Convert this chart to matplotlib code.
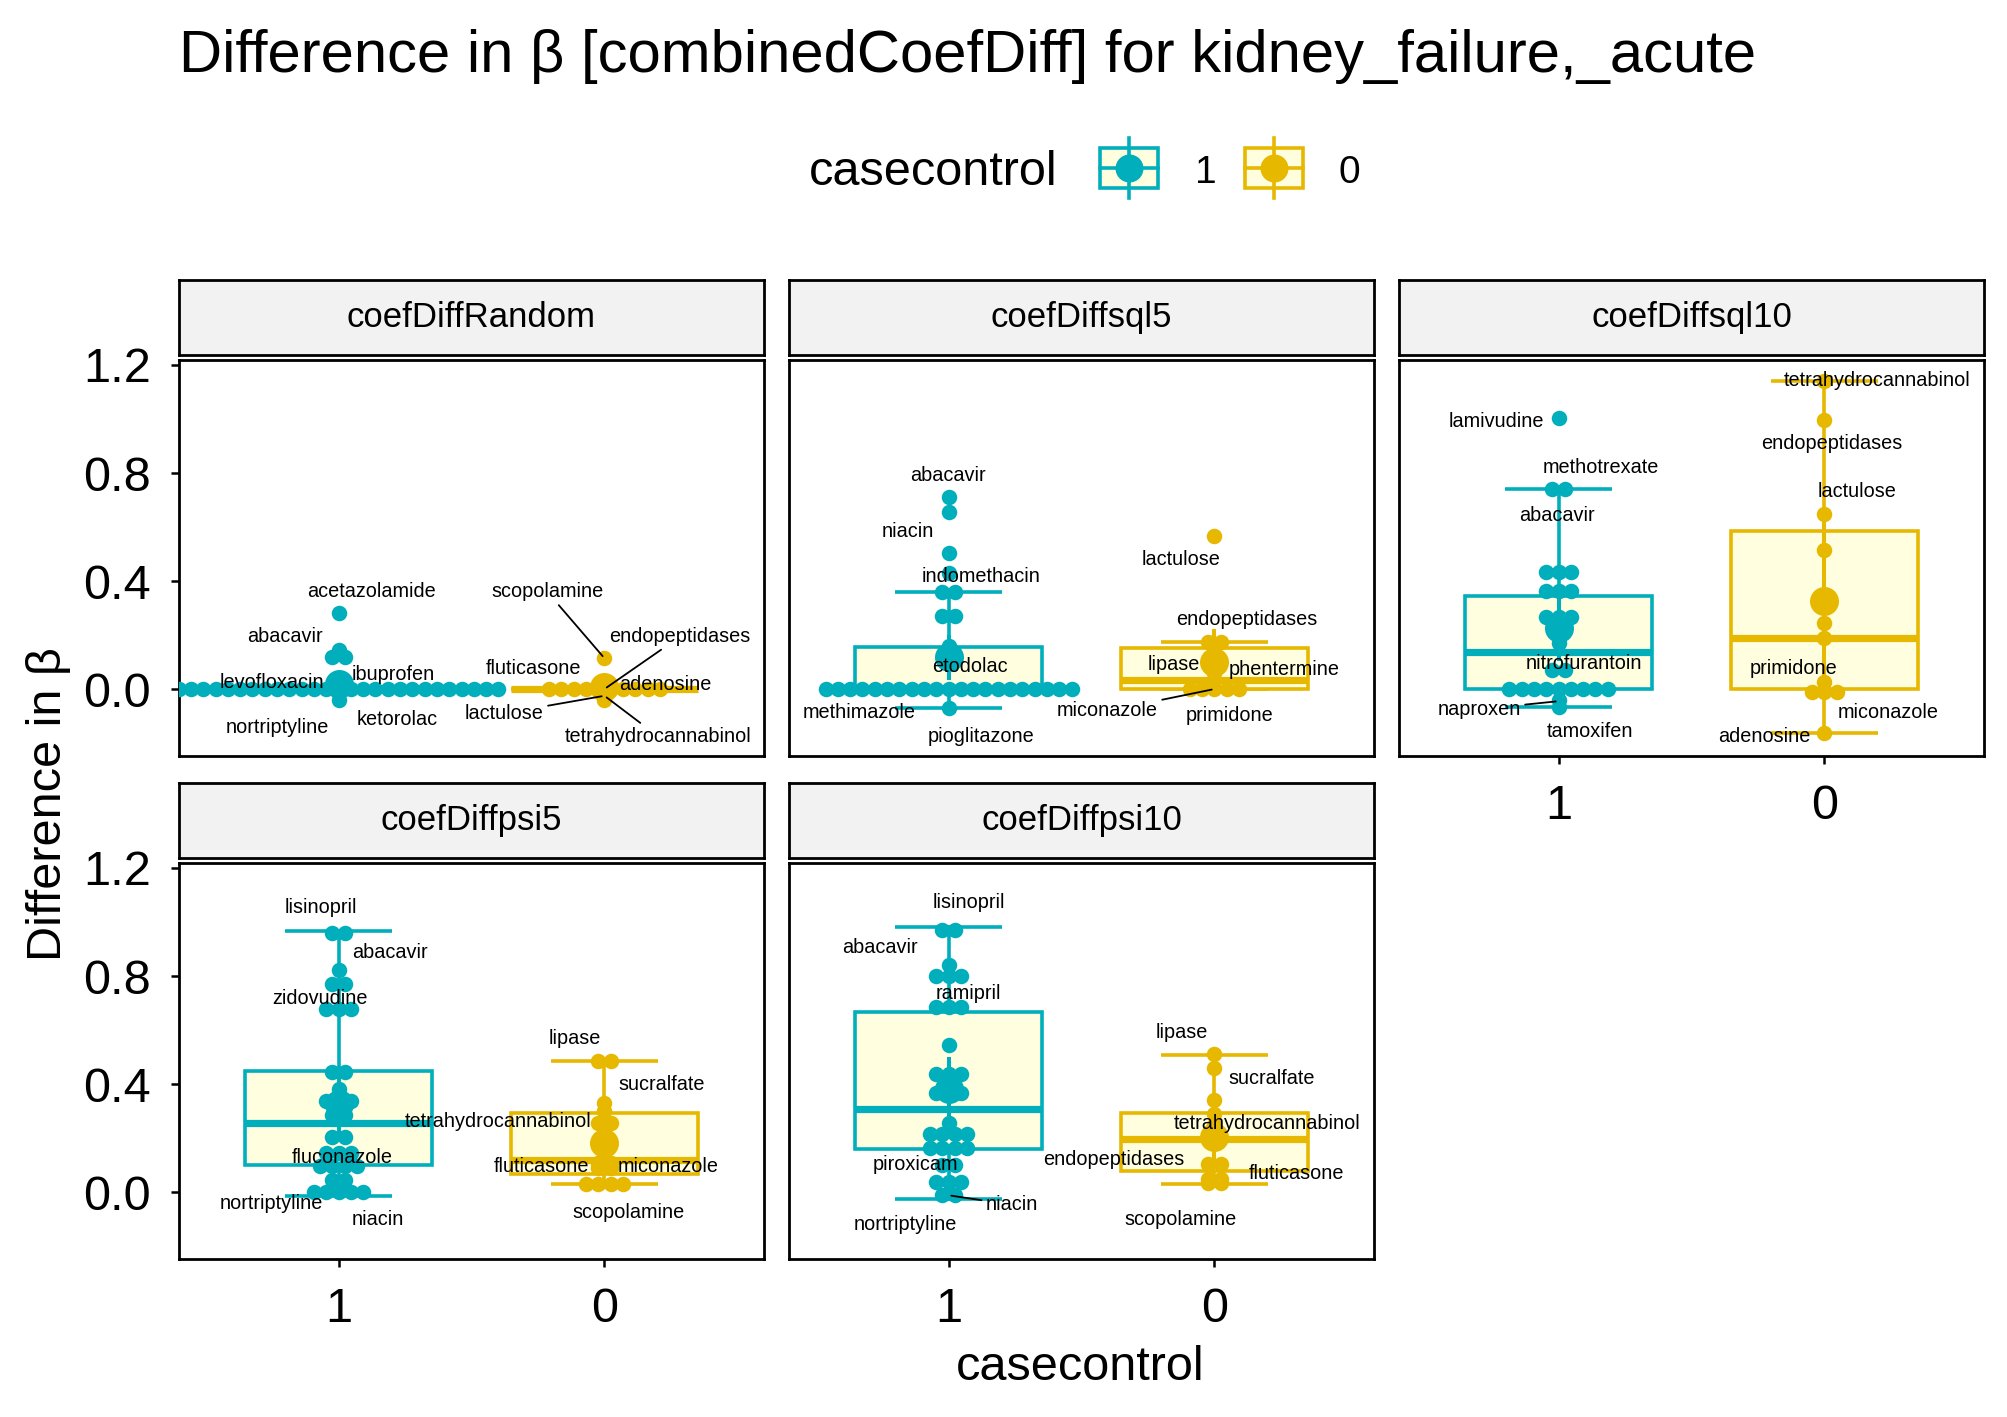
import numpy as np
import matplotlib
matplotlib.use("Agg")
from matplotlib import pyplot as plt
from matplotlib.patches import Rectangle

plt.rcParams["font.family"] = ["Liberation Sans", "DejaVu Sans"]

W, H = 2007, 1417
teal, gold = "#00AFBB", "#E7B800"
box_fill = "#FFFFE0"

title = "Difference in β [combinedCoefDiff] for kidney_failure,_acute"
facet_names = ["coefDiffRandom", "coefDiffsql5", "coefDiffsql10", "coefDiffpsi5", "coefDiffpsi10"]
group_labels = ["1", "0"]

# dot values (binned), case = "1", control = "0"
random_1 = [0.283, 0.145, 0.12, 0.12, 0.04, -0.04] + [0.0] * 27
random_0 = [0.114, -0.04] + [0.0] * 10
sql5_1 = [0.71, 0.656, 0.505, 0.43, 0.358, 0.358, 0.27, 0.27, 0.16, 0.12] + [0.0] * 21 + [-0.072]
sql5_0 = [0.567, 0.175, 0.175, 0.10, 0.06, 0.035] + [0.0] * 5
sql10_1 = ([1.002, 0.741, 0.741] + [0.435] * 3 + [0.362] * 3 + [0.268] * 3
           + [0.17, 0.07, 0.07] + [0.0] * 9 + [-0.04, -0.065])
sql10_0 = [1.142, 0.996, 0.65, 0.515, 0.243, 0.19, 0.027, -0.01, -0.01, -0.01, -0.164]
psi5_1 = ([0.958] * 2 + [0.821] + [0.772] * 2 + [0.679] * 3 + [0.443] * 2 + [0.38]
          + [0.336] * 3 + [0.286] * 2 + [0.205] * 2 + [0.144] * 3 + [0.097] * 4
          + [0.044] * 2 + [0.0] * 5)
psi5_0 = [0.486, 0.486, 0.329, 0.3, 0.257, 0.257, 0.2, 0.13, 0.12, 0.108, 0.108,
          0.09, 0.09] + [0.03] * 4
psi10_1 = ([0.97] * 2 + [0.84] + [0.8] * 3 + [0.685] * 3 + [0.544] + [0.436] * 3
           + [0.367] * 3 + [0.255] + [0.214] * 4 + [0.162] * 4 + [0.1] * 2
           + [0.037] * 3 + [-0.012] * 2)
psi10_0 = [0.51, 0.46, 0.341, 0.29, 0.25, 0.22, 0.2, 0.19, 0.102, 0.102,
           0.05, 0.05, 0.035, 0.035]

# box stats: lower whisker, q1, median, q3, upper whisker
random_1_box = [0.0, 0.0, 0.0, 0.0, 0.0]
random_0_box = [0.0, 0.0, 0.0, 0.0, 0.0]
sql5_1_box = [-0.072, 0.0, 0.0, 0.157, 0.358]
sql5_0_box = [0.0, 0.0, 0.035, 0.152, 0.175]
sql10_1_box = [-0.068, 0.0, 0.138, 0.343, 0.741]
sql10_0_box = [-0.164, 0.0, 0.188, 0.585, 1.142]
psi5_1_box = [-0.014, 0.1, 0.255, 0.448, 0.968]
psi5_0_box = [0.031, 0.065, 0.12, 0.294, 0.486]
psi10_1_box = [-0.027, 0.16, 0.308, 0.667, 0.983]
psi10_0_box = [0.031, 0.077, 0.195, 0.294, 0.507]

# drug labels: (name, group, value)
random_labels = [("acetazolamide", "1", 0.283), ("abacavir", "1", 0.12), ("levofloxacin", "1", 0.0),
                 ("ibuprofen", "1", 0.0), ("nortriptyline", "1", 0.0), ("ketorolac", "1", 0.0),
                 ("scopolamine", "0", 0.114), ("fluticasone", "0", 0.0), ("endopeptidases", "0", 0.0),
                 ("adenosine", "0", 0.0), ("lactulose", "0", -0.025), ("tetrahydrocannabinol", "0", -0.025)]
sql5_labels = [("abacavir", "1", 0.71), ("niacin", "1", 0.656), ("indomethacin", "1", 0.43),
               ("etodolac", "1", 0.12), ("methimazole", "1", 0.0), ("pioglitazone", "1", -0.072),
               ("lactulose", "0", 0.567), ("endopeptidases", "0", 0.175), ("lipase", "0", 0.06),
               ("phentermine", "0", 0.035), ("miconazole", "0", 0.0), ("primidone", "0", 0.0)]
sql10_labels = [("lamivudine", "1", 1.002), ("methotrexate", "1", 0.741), ("abacavir", "1", 0.741),
                ("nitrofurantoin", "1", 0.07), ("naproxen", "1", -0.045), ("tamoxifen", "1", -0.065),
                ("tetrahydrocannabinol", "0", 1.142), ("endopeptidases", "0", 0.996),
                ("lactulose", "0", 0.65), ("primidone", "0", 0.027), ("miconazole", "0", -0.01),
                ("adenosine", "0", -0.164)]
psi5_labels = [("lisinopril", "1", 0.958), ("abacavir", "1", 0.821), ("zidovudine", "1", 0.679),
               ("fluconazole", "1", 0.144), ("tetrahydrocannabinol", "1", 0.286),
               ("nortriptyline", "1", 0.0), ("niacin", "1", 0.0), ("lipase", "0", 0.486),
               ("sucralfate", "0", 0.329), ("fluticasone", "0", 0.09), ("miconazole", "0", 0.09),
               ("scopolamine", "0", 0.03)]
psi10_labels = [("lisinopril", "1", 0.97), ("abacavir", "1", 0.84), ("ramipril", "1", 0.685),
                ("piroxicam", "1", 0.1), ("niacin", "1", -0.012), ("nortriptyline", "1", -0.012),
                ("lipase", "0", 0.51), ("sucralfate", "0", 0.341), ("tetrahydrocannabinol", "0", 0.2),
                ("endopeptidases", "0", 0.102), ("fluticasone", "0", 0.035), ("scopolamine", "0", 0.035)]

# repelled label placement (x, y in data units, connector segment or not)
random_place = [(1.124, 0.36, 0), (0.80, 0.194, 0), (0.748, 0.023, 0), (1.206, 0.054, 0),
                (0.769, -0.142, 0), (1.22, -0.111, 0), (1.785, 0.36, 1), (1.732, 0.077, 0),
                (2.284, 0.194, 1), (2.229, 0.015, 0), (1.624, -0.09, 1), (2.2, -0.174, 1)]
sql5_place = [(0.997, 0.79, 0), (0.846, 0.583, 0), (1.122, 0.416, 0), (1.082, 0.083, 0),
              (0.663, -0.086, 0), (1.124, -0.174, 0), (1.873, 0.481, 0), (2.121, 0.256, 0),
              (1.847, 0.089, 0), (2.261, 0.074, 0), (1.598, -0.081, 1), (2.056, -0.099, 0)]
sql10_place = [(0.767, 0.99, 0), (1.16, 0.82, 0), (0.993, 0.642, 0), (1.094, 0.093, 0),
               (0.702, -0.075, 1), (1.12, -0.158, 0), (2.197, 1.142, 0), (2.027, 0.91, 0),
               (2.121, 0.731, 0), (1.883, 0.077, 0), (2.241, -0.086, 0), (1.772, -0.177, 0)]
psi5_place = [(0.935, 1.053, 0), (1.195, 0.886, 0), (0.929, 0.718, 0), (1.014, 0.129, 0),
              (1.599, 0.261, 0), (0.748, -0.041, 0), (1.148, -0.103, 0), (1.888, 0.569, 0),
              (2.215, 0.398, 0), (1.765, 0.096, 0), (2.241, 0.096, 0), (2.089, -0.074, 0)]
psi10_place = [(1.076, 1.073, 0), (0.741, 0.904, 0), (1.073, 0.737, 0), (0.875, 0.102, 0),
               (1.238, -0.047, 1), (0.836, -0.119, 0), (1.876, 0.589, 0), (2.215, 0.422, 0),
               (2.197, 0.253, 0), (1.621, 0.12, 0), (2.308, 0.068, 0), (1.872, -0.1, 0)]

facets = [
    (random_1, random_0, random_1_box, random_0_box, random_labels, random_place),
    (sql5_1, sql5_0, sql5_1_box, sql5_0_box, sql5_labels, sql5_place),
    (sql10_1, sql10_0, sql10_1_box, sql10_0_box, sql10_labels, sql10_place),
    (psi5_1, psi5_0, psi5_1_box, psi5_0_box, psi5_labels, psi5_place),
    (psi10_1, psi10_0, psi10_1_box, psi10_0_box, psi10_labels, psi10_place),
]


def t975(df):
    z = 1.959964
    return z + (z ** 3 + z) / (4 * df) + (5 * z ** 5 + 16 * z ** 3 + 3 * z) / (96 * df ** 2)


def px_box(x0, y0, x1, y1):
    return [x0 / W, 1 - y1 / H, (x1 - x0) / W, (y1 - y0) / H]


fig = plt.figure(figsize=(W / 100, H / 100), dpi=100)

col_px = [179, 789, 1399]
panel_w = 585
rows_px = [(280, 355, 360, 756), (783, 858, 863, 1259)]
layout = [(0, 0), (0, 1), (0, 2), (1, 0), (1, 1)]
xpos = {"1": 1, "0": 2}
colors = {"1": teal, "0": gold}
xlim = (0.4, 2.6)
ylim = (-0.248, 1.2185)
step_px = 12.3   # horizontal stacking step
dot_px = 15.5    # drawn dot diameter
dot_dx = step_px / panel_w * (xlim[1] - xlim[0])
lw = 2.6


def draw_group(ax, x, vals, box, color):
    lo, q1, med, q3, hi = box
    ax.plot([x, x], [lo, hi], color=color, lw=lw, zorder=2)
    for v in (lo, hi):
        ax.plot([x - 0.2, x + 0.2], [v, v], color=color, lw=lw, solid_capstyle="butt", zorder=2)
    ax.add_patch(Rectangle((x - 0.35, q1), 0.7, q3 - q1, facecolor=box_fill,
                           edgecolor=color, lw=lw, zorder=2.2))
    ax.plot([x - 0.35, x + 0.35], [med, med], color=color, lw=5.2,
            solid_capstyle="butt", zorder=2.3)
    # centred dot stacks
    uniq, counts = np.unique(np.array(vals), return_counts=True)
    xs, ys = [], []
    for v, n in zip(uniq, counts):
        for i in range(n):
            xs.append(x + (i - (n - 1) / 2) * dot_dx)
            ys.append(v)
    ax.scatter(xs, ys, s=(dot_px * 0.72) ** 2, color=color, linewidths=0, zorder=3)
    # mean with 95% normal CI
    arr = np.array(vals)
    m = arr.mean()
    ci = t975(len(arr) - 1) * arr.std(ddof=1) / np.sqrt(len(arr))
    ax.plot([x, x], [m - ci, m + ci], color=color, lw=2.9, zorder=4)
    ax.scatter([x], [m], s=(29 * 0.72) ** 2, color=color, linewidths=0, zorder=4)


for k, (name, (r, c)) in enumerate(zip(facet_names, layout)):
    s_top, s_bot, p_top, p_bot = rows_px[r]
    x0 = col_px[c]
    ax = fig.add_axes(px_box(x0, p_top, x0 + panel_w, p_bot))
    sax = fig.add_axes(px_box(x0, s_top, x0 + panel_w, s_bot))

    vals1, vals0, box1, box0, labels, place = facets[k]
    draw_group(ax, 1, vals1, box1, teal)
    draw_group(ax, 2, vals0, box0, gold)

    for (txt, g, v), (lx, ly, seg) in zip(labels, place):
        if seg:
            ax.annotate(txt, xy=(xpos[g], v), xytext=(lx, ly), fontsize=14.3,
                        ha="center", va="center", zorder=5,
                        arrowprops=dict(arrowstyle="-", color="black", lw=1.3,
                                        shrinkA=1, shrinkB=2))
        else:
            ax.text(lx, ly, txt, fontsize=14.3, ha="center", va="center", zorder=5)

    ax.set_xlim(*xlim)
    ax.set_ylim(*ylim)
    for sp in ax.spines.values():
        sp.set_linewidth(2.0)
        sp.set_color("black")
    ax.tick_params(axis="both", length=6, width=1.8, color="black",
                   labelsize=35, labelcolor="black", pad=14)
    ax.set_yticks([0.0, 0.4, 0.8, 1.2])
    ax.set_xticks([1, 2])
    if c == 0:
        ax.set_yticklabels(["0.0", "0.4", "0.8", "1.2"])
    else:
        ax.tick_params(axis="y", length=0, labelleft=False)
    if r == 1 or k == 2:
        ax.set_xticklabels(group_labels)
    else:
        ax.tick_params(axis="x", length=0, labelbottom=False)

    sax.set_facecolor("#F2F2F2")
    sax.set_xticks([])
    sax.set_yticks([])
    for sp in sax.spines.values():
        sp.set_linewidth(2.0)
        sp.set_color("black")
    sax.text(0.5, 0.5, name, fontsize=25, ha="center", va="center", transform=sax.transAxes)

# title and axis titles
fig.text(179 / W, 1 - 72 / H, title, fontsize=43, ha="left", va="baseline")
fig.text(1080 / W, 1 - 1380 / H, "casecontrol", fontsize=35, ha="center", va="baseline")
fig.text(49 / W, 1 - 804 / H, "Difference in β", fontsize=35, rotation=90,
         ha="center", va="center")

# legend
fig.text(809 / W, 1 - 185 / H, "casecontrol", fontsize=35, ha="left", va="baseline")
lax = fig.add_axes(px_box(1090, 128, 1320, 208))
lax.set_xlim(1090, 1320)
lax.set_ylim(208, 128)
lax.axis("off")
for g, kx in zip(group_labels, [1100, 1245]):
    col = colors[g]
    lax.plot([kx + 29, kx + 29], [138, 198], color=col, lw=lw)
    lax.add_patch(Rectangle((kx, 148), 58, 40, facecolor=box_fill, edgecolor=col, lw=lw))
    lax.plot([kx, kx + 58], [168, 168], color=col, lw=lw)
    lax.scatter([kx + 29], [168], s=(28 * 0.72) ** 2, color=col, linewidths=0, zorder=3)
fig.text(1195 / W, 1 - 183 / H, "1", fontsize=28, ha="left", va="baseline")
fig.text(1338 / W, 1 - 183 / H, "0", fontsize=28, ha="left", va="baseline")

fig.savefig("out.png", dpi=100)
